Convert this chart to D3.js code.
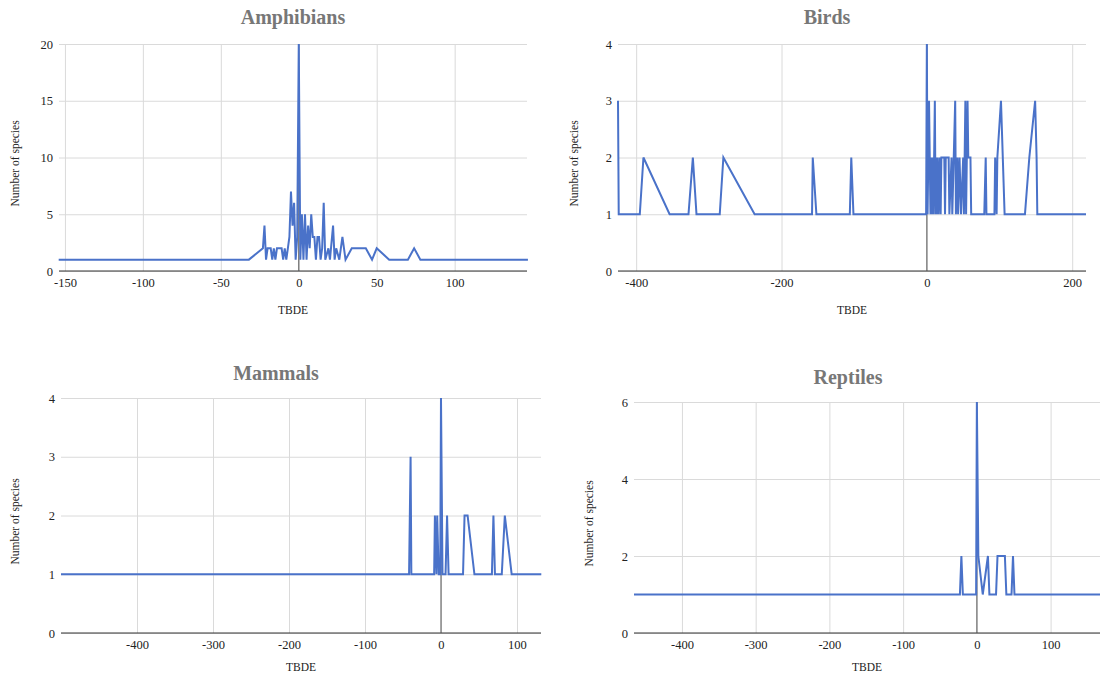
<!DOCTYPE html>
<html>
<head>
<meta charset="utf-8">
<script src="https://cdn.jsdelivr.net/npm/d3@7"></script>
<style>
  body { margin: 0; background: #fff; }
  svg { display: block; }
  text { font-family: "Liberation Serif", "Times New Roman", serif; }
</style>
</head>
<body>
<svg width="1101" height="684"></svg>
<script>
// ---- data (TBDE -> number of species) ----
const amphibiansTBDE  = [-154, -32, -23, -22, -21, -20, -18, -17, -16, -15, -14, -11, -10, -9, -8, -7, -6, -5, -4, -3, -2, -1, 0, 1, 2, 3, 4, 5, 6, 7, 8, 9, 10, 11, 12, 13, 14, 15, 16, 17, 19, 20, 22, 23, 24, 26, 28, 30, 34, 43, 47, 50, 58, 70, 74, 78, 147]
const amphibiansCount = [1, 1, 2, 4, 1, 2, 2, 1, 2, 1, 2, 2, 1, 2, 1, 2, 3, 7, 4, 6, 1, 3, 20, 1, 5, 1, 5, 1, 4, 2, 5, 3, 3, 1, 3, 3, 1, 2, 6, 1, 2, 1, 4, 1, 2, 1, 3, 1, 2, 2, 1, 2, 1, 1, 2, 1, 1]

const birdsTBDE  = [-425, -424, -395, -390, -354, -328, -322, -317, -285, -280, -237, -158, -157, -152, -106, -104, -101, -1, 0, 1, 3, 4, 5, 6, 7, 8, 9, 11, 12, 13, 14, 15, 16, 18, 19, 20, 24, 25, 26, 30, 31, 34, 35, 39, 40, 42, 43, 45, 47, 50, 51, 53, 54, 56, 57, 60, 61, 79, 81, 82, 93, 94, 96, 97, 102, 107, 135, 141, 149, 151, 152, 219]
const birdsCount = [3, 1, 1, 2, 1, 1, 2, 1, 1, 2, 1, 1, 2, 1, 1, 2, 1, 1, 4, 1, 3, 2, 1, 2, 1, 2, 1, 3, 1, 2, 1, 2, 1, 2, 1, 2, 2, 1, 2, 2, 1, 2, 1, 3, 1, 2, 1, 2, 1, 2, 1, 3, 1, 3, 2, 2, 1, 1, 2, 1, 1, 2, 1, 2, 3, 1, 1, 2, 3, 2, 1, 1]

const mammalsTBDE  = [-500, -42, -40, -39, -9, -8, -6, -5, -3, -1, 0, 2, 6, 8, 10, 29, 31, 35, 44, 67, 69, 71, 80, 84, 93, 132]
const mammalsCount = [1, 1, 3, 1, 1, 2, 1, 2, 1, 1, 4, 1, 1, 2, 1, 1, 2, 2, 1, 1, 2, 1, 1, 2, 1, 1]

const reptilesTBDE  = [-465, -23, -21, -19, -1, 0, 2, 8, 15, 17, 26, 28, 38, 40, 47, 49, 51, 167]
const reptilesCount = [1, 1, 2, 1, 1, 6, 2, 1, 2, 1, 1, 2, 2, 1, 1, 2, 1, 1]

const amphibiansXTicks = [-150, -100, -50, 0, 50, 100]
const amphibiansYTicks = [0, 5, 10, 15, 20]
const birdsXTicks = [-400, -200, 0, 200]
const birdsYTicks = [0, 1, 2, 3, 4]
const mammalsXTicks = [-400, -300, -200, -100, 0, 100]
const mammalsYTicks = [0, 1, 2, 3, 4]
const reptilesXTicks = [-400, -300, -200, -100, 0, 100]
const reptilesYTicks = [0, 2, 4, 6]

const svg = d3.select('svg')
const lineColor = '#4a72c9'
const plainNum = d => String(d)   // hyphen minus, no decimals

// layout of the four panels
const panels = [
  { title: 'Amphibians', xs: amphibiansTBDE, ys: amphibiansCount, xDomain: [-153.8, 146.4], yMax: 20,
    xTicks: amphibiansXTicks, yTicks: amphibiansYTicks,
    left: 59, right: 527, top: 44, bottom: 271, titleX: 293, titleY: 24, yLabelX: 15, xLabelY: 314 },
  { title: 'Birds', xs: birdsTBDE, ys: birdsCount, xDomain: [-425, 219], yMax: 4,
    xTicks: birdsXTicks, yTicks: birdsYTicks,
    left: 618, right: 1086, top: 44, bottom: 271, titleX: 827, titleY: 24, yLabelX: 574, xLabelY: 314 },
  { title: 'Mammals', xs: mammalsTBDE, ys: mammalsCount, xDomain: [-500, 131.6], yMax: 4,
    xTicks: mammalsXTicks, yTicks: mammalsYTicks,
    left: 61, right: 541, top: 398, bottom: 633, titleX: 276, titleY: 380, yLabelX: 15, xLabelY: 671 },
  { title: 'Reptiles', xs: reptilesTBDE, ys: reptilesCount, xDomain: [-465, 167], yMax: 6,
    xTicks: reptilesXTicks, yTicks: reptilesYTicks,
    left: 634, right: 1100, top: 402, bottom: 633, titleX: 848, titleY: 384, yLabelX: 589, xLabelY: 671 }
]

function drawPanel(p) {
  const x = d3.scaleLinear().domain(p.xDomain).range([p.left, p.right])
  const y = d3.scaleLinear().domain([0, p.yMax]).range([p.bottom, p.top])
  const g = svg.append('g')

  // vertical gridlines + x tick labels
  const xAxis = g.append('g')
    .attr('transform', `translate(0,${p.bottom})`)
    .call(d3.axisBottom(x).tickValues(p.xTicks).tickSize(-(p.bottom - p.top)).tickPadding(7).tickFormat(plainNum))
  xAxis.attr('font-family', null)
  xAxis.select('.domain').remove()
  xAxis.selectAll('line').attr('stroke', '#dadada')
  xAxis.selectAll('text').attr('font-size', 12.5).attr('fill', '#222')

  // horizontal gridlines + y tick labels
  const yAxis = g.append('g')
    .attr('transform', `translate(${p.left},0)`)
    .call(d3.axisLeft(y).tickValues(p.yTicks).tickSize(-(p.right - p.left)).tickPadding(6).tickFormat(plainNum))
  yAxis.attr('font-family', null)
  yAxis.select('.domain').remove()
  yAxis.selectAll('line').attr('stroke', '#dadada')
  yAxis.selectAll('text').attr('font-size', 12.5).attr('fill', '#222')

  // baselines
  g.append('line')
    .attr('x1', p.left).attr('x2', p.right)
    .attr('y1', y(0)).attr('y2', y(0))
    .attr('stroke', '#333')
  g.append('line')
    .attr('x1', x(0)).attr('x2', x(0))
    .attr('y1', p.top).attr('y2', p.bottom)
    .attr('stroke', '#555')

  // data line
  const pts = p.xs.map((v, i) => [v, p.ys[i]])
  g.append('path')
    .datum(pts)
    .attr('fill', 'none')
    .attr('stroke', lineColor)
    .attr('stroke-width', 2)
    .attr('d', d3.line().x(d => x(d[0])).y(d => y(d[1])))

  // title and axis titles
  g.append('text')
    .attr('x', p.titleX).attr('y', p.titleY)
    .attr('text-anchor', 'middle')
    .attr('font-size', 20).attr('font-weight', 'bold')
    .attr('fill', '#777')
    .text(p.title)

  g.append('text')
    .attr('transform', `translate(${p.yLabelX},${(p.top + p.bottom) / 2 + 6}) rotate(-90)`)
    .attr('text-anchor', 'middle')
    .attr('dy', '0.35em')
    .attr('font-size', 11.5).attr('fill', '#222')
    .text('Number of species')

  g.append('text')
    .attr('x', (p.left + p.right) / 2).attr('y', p.xLabelY)
    .attr('text-anchor', 'middle')
    .attr('font-size', 11.5).attr('fill', '#222')
    .text('TBDE')
}

panels.forEach(drawPanel)
</script>
</body>
</html>
